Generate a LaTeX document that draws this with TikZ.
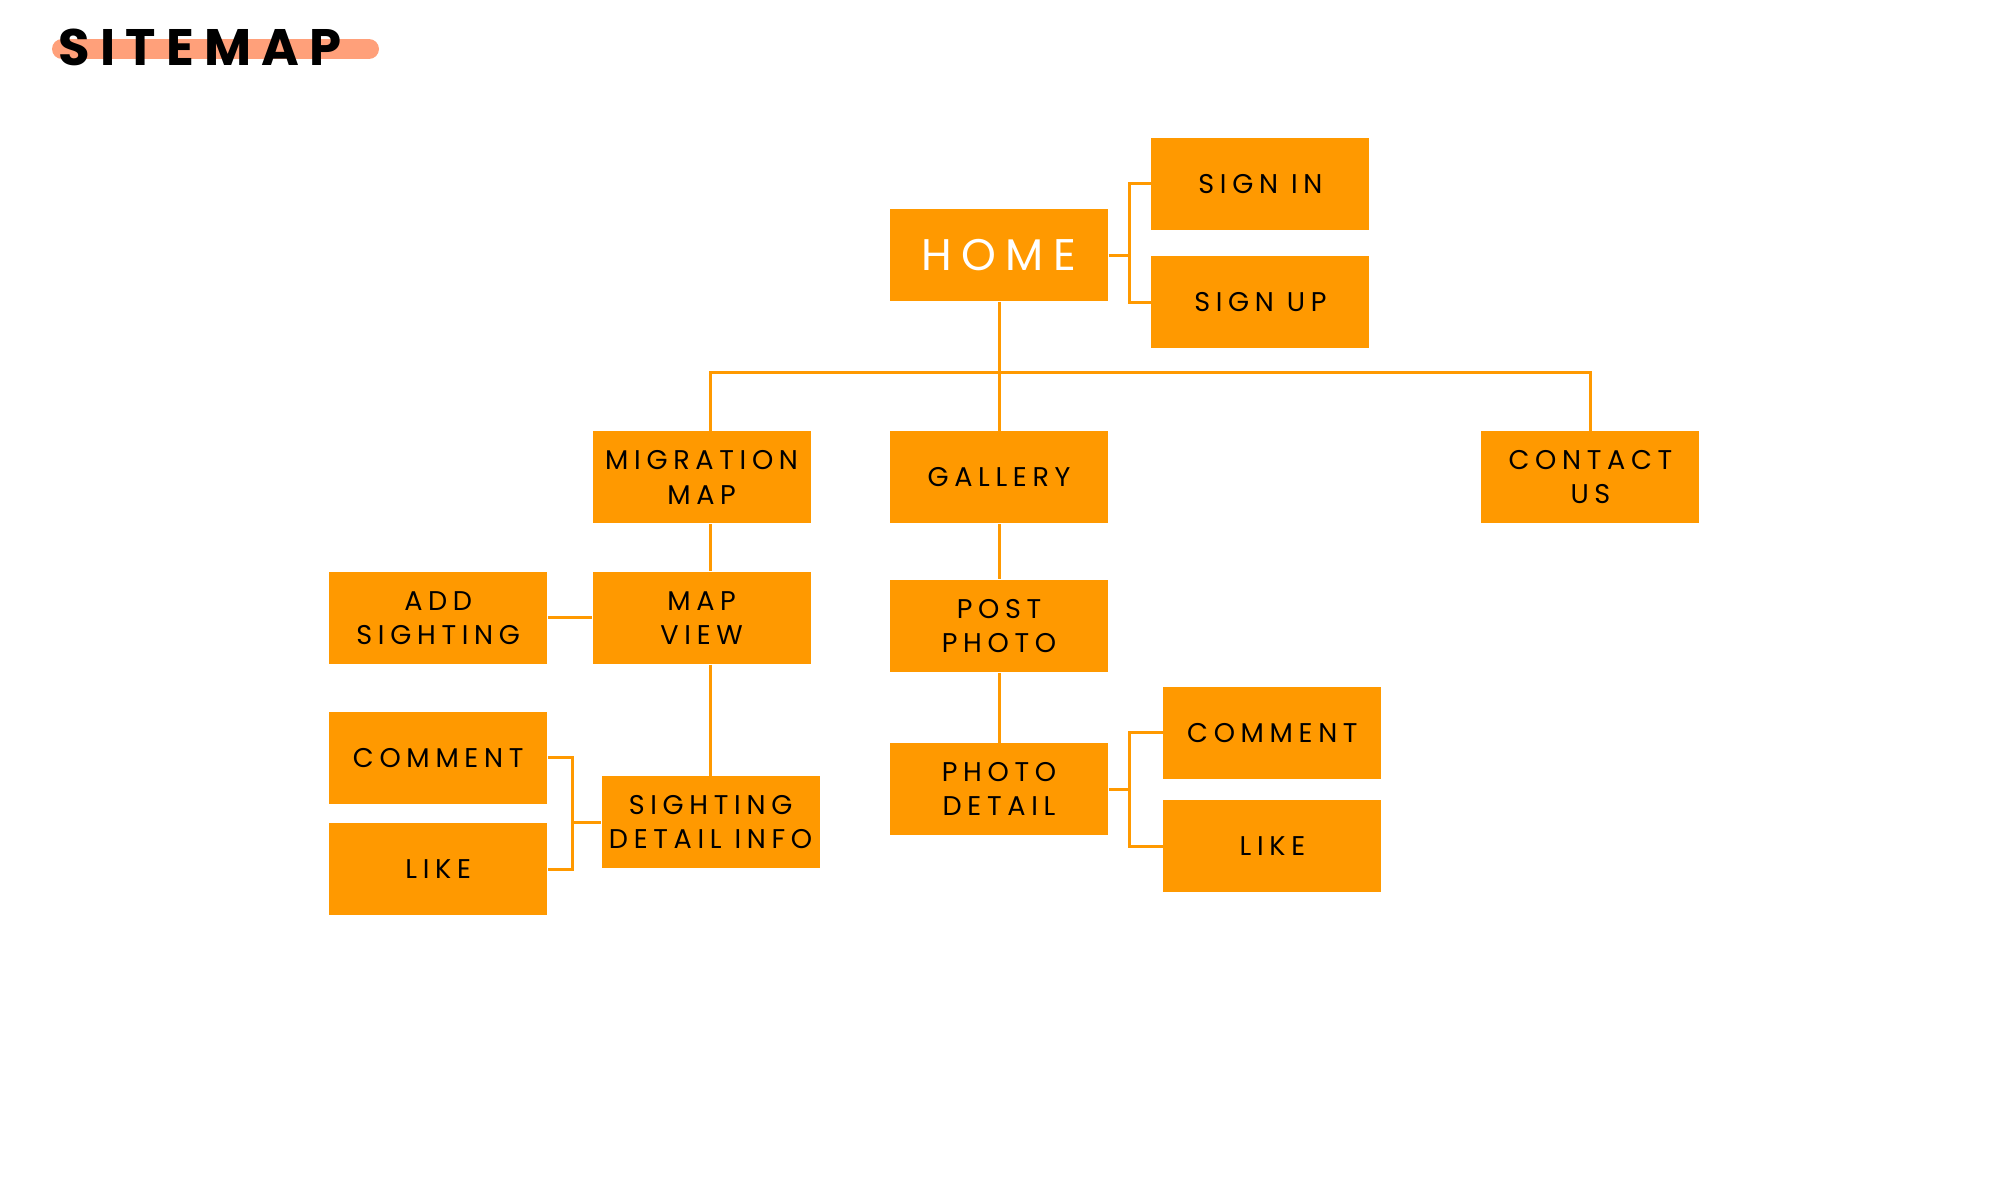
\documentclass[tikz,border=0pt]{standalone}
\usepackage{fontspec}
\usepackage{tikz}
\usetikzlibrary{positioning,calc}
\newfontfamily\pgfont[LetterSpace=21]{Poppins}
\newfontfamily\ttlfont[LetterSpace=20]{Poppins}
\definecolor{pgorange}{HTML}{FF9900}
\definecolor{hlsalmon}{HTML}{FFA07A}
\tikzset{
  pg/.style={fill=pgorange, minimum width=2.18cm, minimum height=0.92cm, inner sep=0pt, align=center, font=\pgfont\fontsize{7.7}{9.7}\selectfont, text=black},
  hm/.style={pg, font=\pgfont\fontsize{12.6}{14}\selectfont, text=white},
  ln/.style={draw=pgorange, line width=0.85pt},
  hl/.style={draw=hlsalmon, line width=0.2cm, line cap=round},
  ttl/.style={font=\ttlfont\bfseries\fontsize{14.6}{16}\selectfont, inner sep=0pt, anchor=west},
}
\begin{document}
\begin{tikzpicture}
\useasboundingbox (0,0) rectangle (20,-12);
\draw[hl] (0.62,-0.49) -- (3.69,-0.49);
\node[ttl] (ttl) at (0.58,-0.47) {SITEMAP};
\node[hm] (home) at (9.99,-2.55) {HOME};
\node[pg, above right=-0.22cm and 0.42cm of home] (sin) {SIGN IN};
\node[pg, below=0.25cm of sin] (sup) {SIGN UP};
\node[pg, below=1.29cm of home] (gal) {GALLERY};
\node[pg, left=0.78cm of gal] (mig) {MIGRATION\\MAP};
\node[pg, right=3.72cm of gal] (con) {CONTACT\\US};
\node[pg, below=0.47cm of mig] (mv) {MAP\\VIEW};
\node[pg, left=0.44cm of mv] (add) {ADD\\SIGHTING};
\node[pg, below=1.11cm of mv, xshift=0.09cm] (sdi) {SIGHTING\\DETAIL INFO};
\node[pg, above left=-0.29cm and 0.53cm of sdi] (cml) {COMMENT};
\node[pg, below=0.18cm of cml] (lkl) {LIKE};
\node[pg, below=0.55cm of gal] (pp) {POST\\PHOTO};
\node[pg, below=0.7cm of pp] (pd) {PHOTO\\DETAIL};
\node[pg, above right=-0.37cm and 0.54cm of pd] (cmr) {COMMENT};
\node[pg, below=0.2cm of cmr] (lkr) {LIKE};
\coordinate (bus) at ($(home.south)!0.55!(gal.north)$);
\draw[ln] (home.east) -- ++(0.21,0);
\draw[ln] (sin.west) -- ++(-0.21,0) |- (sup.west);
\draw[ln] (home.south) -- (gal.north);
\draw[ln] (sdi |- mig.north) |- (bus) -| (con.north);
\draw[ln] (sdi |- mig.south) -- (sdi |- mv.north);
\draw[ln] (sdi |- mv.south) -- (sdi.north);
\draw[ln] (add.east) -- (add.east -| mv.west);
\draw[ln] (cml.east) -- ++(0.25,0) |- (lkl.east);
\draw[ln] (sdi.west) -- ++(-0.28,0);
\draw[ln] (gal.south) -- (pp.north);
\draw[ln] (pp.south) -- (pd.north);
\draw[ln] (cmr.west) -- ++(-0.33,0) |- (lkr.west);
\draw[ln] (pd.east) -- ++(0.21,0);
\end{tikzpicture}
\end{document}
